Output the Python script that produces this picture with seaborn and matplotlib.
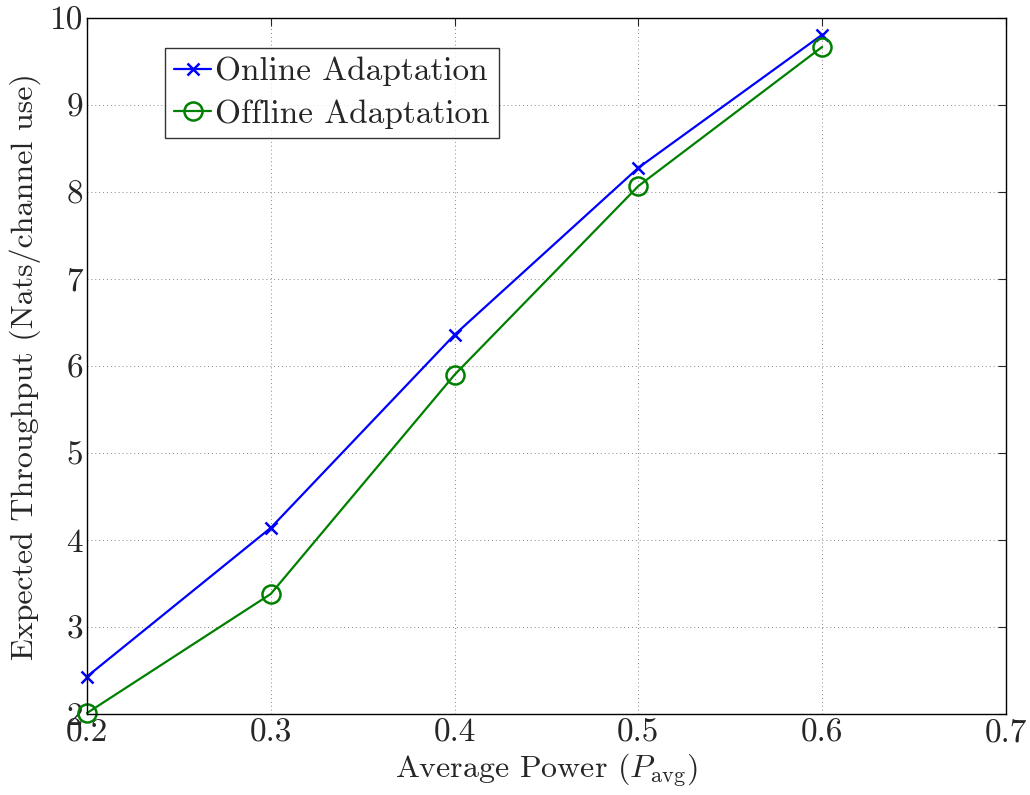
import matplotlib
matplotlib.use("Agg")
import matplotlib.pyplot as plt
import seaborn as sns
import pandas as pd
from matplotlib.lines import Line2D

power = [0.2, 0.3, 0.4, 0.5, 0.6]
online = [2.43, 4.14, 6.36, 8.28, 9.81]
offline = [2.01, 3.38, 5.90, 8.07, 9.67]
series_names = ["Online Adaptation", "Offline Adaptation"]
x_ticks = [0.2, 0.3, 0.4, 0.5, 0.6, 0.7]
y_ticks = [2, 3, 4, 5, 6, 7, 8, 9, 10]

sns.set_style("white")
plt.rcParams["font.family"] = ["cmr10", "DejaVu Serif"]
plt.rcParams["mathtext.fontset"] = "cm"
plt.rcParams["axes.formatter.use_mathtext"] = True

fig = plt.figure(figsize=(10.3, 7.95), dpi=100)
ax = fig.add_axes([0.0845, 0.102, 0.892, 0.875])

styles = [
    dict(color="#0000ff", markeredgecolor="#0000ff", marker="x", markersize=9),
    dict(color="#008000", markeredgecolor="#008000", marker="o", markersize=13,
         markerfacecolor="none"),
]
for vals, st in zip([online, offline], styles):
    sns.lineplot(x=power, y=vals, ax=ax, linewidth=1.6, markeredgewidth=1.8,
                 clip_on=False, **st)

ax.set_xlim(0.2, 0.7)
ax.set_ylim(2, 10)
ax.set_xticks(x_ticks)
ax.set_yticks(y_ticks)
ax.set_xticklabels([f"{v:.1f}" for v in x_ticks])
ax.set_yticklabels([str(v) for v in y_ticks])
ax.tick_params(direction="in", length=6, width=0.8, labelsize=24, top=True, right=True, pad=3)
ax.grid(True, linestyle=(0, (1, 3)), color="#888888", linewidth=0.7)
for s in ax.spines.values():
    s.set_color("black")
    s.set_linewidth(1.0)

ax.set_xlabel(r"Average Power ($P_{\mathrm{avg}}$)", fontsize=23, labelpad=3)
ax.set_ylabel("Expected Throughput (Nats/channel use)", fontsize=23, labelpad=6)

handles = [Line2D([], [], linewidth=1.6, markeredgewidth=1.8, **st) for st in styles]
leg = ax.legend(handles, series_names, loc="upper left", bbox_to_anchor=(0.085, 0.958),
                fontsize=24, frameon=True, fancybox=False, handlelength=1.1,
                handletextpad=0.12, borderpad=0.28, labelspacing=0.38, borderaxespad=0)
leg.get_frame().set_edgecolor("black")
leg.get_frame().set_linewidth(1.0)

fig.savefig("out.png", dpi=100)
